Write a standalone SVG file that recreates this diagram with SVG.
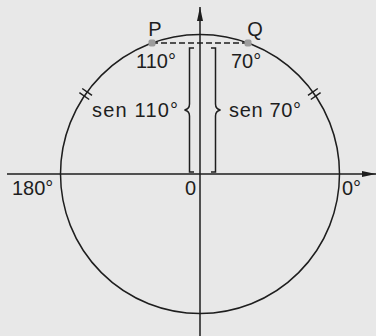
<svg xmlns="http://www.w3.org/2000/svg" width="376" height="336" viewBox="0 0 376 336">
<style>
.ln{stroke:#1e1e1e;stroke-width:1.5;fill:none}
.t{font-family:"Liberation Sans",Arial,sans-serif;font-size:20px;fill:#1e1e1e}
.pt{fill:#9c9c9c}
</style>
<defs>
<marker id="ah" viewBox="0 0 14 6" refX="14" refY="3" markerWidth="14" markerHeight="6" markerUnits="userSpaceOnUse" orient="auto">
<path d="M0,0 L14,3 L0,6 Z" fill="#1e1e1e"/>
</marker>
</defs>
<rect width="376" height="336" fill="#e8e8e8"/>
<g id="circle">
<circle class="ln" cx="200" cy="174" r="139.5"/>
<path class="ln" stroke-width="1.7" d="M79.4,92.6 L89.2,99.5 M82.2,88.5 L92.0,95.4 M308.0,95.4 L317.8,88.5 M310.8,99.5 L320.6,92.6"/>
</g>
<g id="connectors">
<line class="ln" x1="7" y1="174" x2="376" y2="174" marker-end="url(#ah)"/>
<line class="ln" x1="200" y1="336" x2="200" y2="7" marker-end="url(#ah)"/>
<line class="ln" x1="152" y1="43" x2="248" y2="43" stroke-dasharray="6,3" stroke-width="1.7"/>
<path class="ln" d="M194,48 H189.5 V104 Q189.5,109 184.5,110 Q189.5,111 189.5,116 V172 H194"/>
<path class="ln" d="M211,48 H215.5 V104 Q215.5,109 220.5,110 Q215.5,111 215.5,116 V172 H211"/>
</g>
<g id="P">
<rect class="pt" x="148.5" y="39.5" width="7" height="7" rx="2"/>
<text class="t" x="155" y="36" text-anchor="middle">P</text>
<text class="t" x="136" y="68">110°</text>
</g>
<g id="Q">
<rect class="pt" x="244.5" y="39.5" width="7" height="7" rx="2"/>
<text class="t" x="255" y="36" text-anchor="middle">Q</text>
<text class="t" x="231" y="68">70°</text>
</g>
<g id="sen110">
<text class="t" x="92" y="117" textLength="86" lengthAdjust="spacing">sen 110°</text>
</g>
<g id="sen70">
<text class="t" x="229" y="117" textLength="72" lengthAdjust="spacing">sen 70°</text>
</g>
<g id="labels">
<text class="t" x="190.5" y="195" text-anchor="middle">0</text>
<text class="t" x="12" y="195">180°</text>
<text class="t" x="342" y="195">0°</text>
</g>
</svg>
